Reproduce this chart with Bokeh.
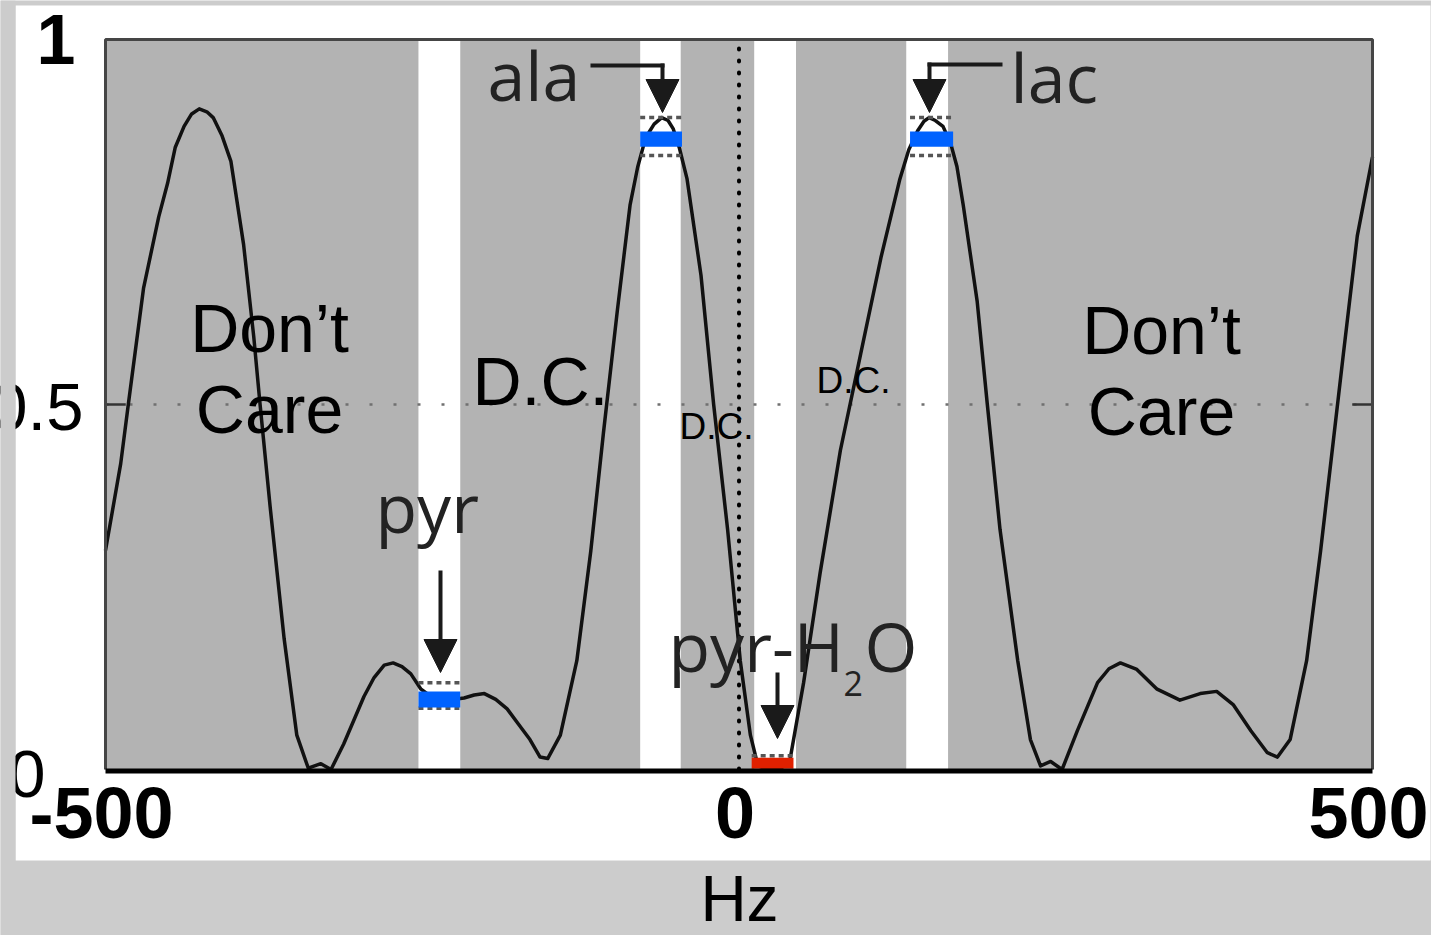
from bokeh.plotting import figure
from bokeh.models import Arrow, NormalHead, Range1d
from bokeh.core.properties import value
from bokeh.embed import file_html
from bokeh.resources import INLINE

# ---- data ----
hz = [-500, -488, -482, -470, -458, -451, -445, -438, -432, -426, -420, -415, -408,
      -401, -391, -383, -378, -370, -359, -349, -340, -330, -322, -312, -296, -288,
      -280, -273, -266, -259, -251, -244, -236, -226, -217, -209, -201, -192, -183,
      -174, -165, -157, -151, -141, -128, -117, -107, -96, -86, -80, -75, -71, -67,
      -61, -56, -52, -47, -41, -30, -20, -9, 1, 9, 15, 21, 27, 34, 40, 51, 64,
      80, 96, 112, 127, 134, 141, 146, 150, 155, 161, 167, 172, 177, 188, 196, 206,
      220, 230, 238, 246, 255, 267, 283, 292, 301, 314, 330, 348, 364, 377, 390, 404,
      417, 425, 435, 448, 459, 469, 477, 488, 500]
mag = [0.3, 0.419, 0.5, 0.659, 0.757, 0.803, 0.852, 0.881, 0.898, 0.905, 0.901, 0.893, 0.868,
       0.833, 0.719, 0.593, 0.5, 0.359, 0.179, 0.047, 0.002, 0.008, 0.0, 0.035, 0.1, 0.126,
       0.143, 0.146, 0.141, 0.131, 0.11, 0.101, 0.098, 0.096, 0.098, 0.102, 0.104, 0.096, 0.083,
       0.062, 0.041, 0.017, 0.015, 0.047, 0.149, 0.299, 0.461, 0.629, 0.773, 0.825, 0.857, 0.873, 0.884,
       0.893, 0.889, 0.878, 0.851, 0.809, 0.677, 0.5, 0.329, 0.149, 0.047, 0.005, 0.001, 0.0, 0.003, 0.011, 0.119, 0.269,
       0.437, 0.569, 0.701, 0.809, 0.849, 0.875, 0.888, 0.893, 0.889, 0.881, 0.858, 0.826, 0.773, 0.641, 0.5, 0.329,
       0.149, 0.041, 0.005, 0.011, 0.0, 0.053, 0.119, 0.138, 0.146, 0.137, 0.11, 0.095, 0.104, 0.107, 0.089, 0.053,
       0.023, 0.017, 0.041, 0.149, 0.299, 0.449, 0.569, 0.731, 0.839]

# white (care) gaps between the grey "don't care" regions
gap_left = [-253, -78, 12, 132]
gap_right = [-220, -46, 45, 165]

# pass bands (blue) with tolerance limits
pass_names = ["pyr", "ala", "lac"]
pass_left = [-253, -78, 135]
pass_right = [-220, -45, 169]
pass_low = [0.085, 0.853, 0.853]
pass_high = [0.107, 0.874, 0.874]
tol_upper = [0.119, 0.893, 0.893]
tol_lower = [0.084, 0.841, 0.841]

# stop band (red) for pyr-H2O
stop_left = [10]
stop_right = [43]
stop_low = [0.001]
stop_high = [0.016]
stop_tol = [0.019]

x_ticks = [-500, 0, 500]
x_tick_labels = ["-500", "0", "500"]
y_ticks = [0, 0.5, 1]
y_tick_labels = ["0", "0.5", "1"]

# ---- pixel layout of the page (1431 x 935) ----
W, H = 1431, 935
PX_L, PX_R = 105, 1372      # x = -500 .. 500
PY_0, PY_1 = 769, 39        # y = 0 .. 1
KX = (PX_R - PX_L) / (x_ticks[2] - x_ticks[0])
KY = (PY_0 - PY_1) / (y_ticks[2] - y_ticks[0])

def hx(px):
    return x_ticks[0] + (px - PX_L) / KX

def vy(py):
    return y_ticks[0] + (PY_0 - py) / KY

p = figure(width=W, height=H, x_range=Range1d(hx(0), hx(W)), y_range=Range1d(vy(H), vy(0)),
           output_backend="svg", toolbar_location=None, x_axis_location=None, y_axis_location=None,
           min_border=0, border_fill_color="#cccccc", background_fill_color="#cccccc",
           outline_line_color=None)
p.grid.visible = False

XMIN, XMAX = x_ticks[0], x_ticks[2]
YMIN, YMAX = y_ticks[0], y_ticks[2]

# white panel
p.quad(left=[hx(15)], right=[hx(1430)], bottom=[vy(860)], top=[vy(5)], fill_color="white", line_color=None)

# grey don't-care regions
gray_l = [XMIN] + gap_right
gray_r = gap_left + [XMAX]
p.quad(left=gray_l, right=gray_r, bottom=YMIN, top=YMAX, fill_color="#b3b3b3", line_color=None)

# dotted grid at 0.5, ticks at 0.5, dotted line at 0 Hz
p.line(x=[XMIN, XMAX], y=[y_ticks[1]] * 2, line_color="#707070", line_width=2.5, line_dash="3 21")
p.segment(x0=[XMIN, XMAX], x1=[XMIN + 16, XMAX - 16], y0=[y_ticks[1]] * 2, y1=[y_ticks[1]] * 2,
          line_color="#333333", line_width=2.5)
p.line(x=[x_ticks[1]] * 2, y=[YMIN, YMAX], line_color="black", line_width=4,
       line_dash="1 11", line_cap="round")

# response curve
p.line(hz, mag, line_color="#111111", line_width=3.5, line_join="round")

# tolerance marks
p.segment(x0=pass_left, x1=pass_right, y0=tol_upper, y1=tol_upper, line_color="#555555",
          line_width=3.5, line_dash="5 4")
p.segment(x0=pass_left, x1=pass_right, y0=tol_lower, y1=tol_lower, line_color="#555555",
          line_width=3.5, line_dash="5 4")
p.segment(x0=stop_left, x1=stop_right, y0=stop_tol, y1=stop_tol, line_color="#555555",
          line_width=3.5, line_dash="5 4")

# pass / stop bars
p.quad(left=pass_left, right=pass_right, bottom=pass_low, top=pass_high,
       fill_color="#0062ff", line_color=None)
p.quad(left=stop_left, right=stop_right, bottom=stop_low, top=stop_high,
       fill_color="#e02000", line_color=None)

# plot box: grey left/top/right, thick black bottom
p.line(x=[XMIN, XMIN, XMAX, XMAX], y=[YMIN, YMAX, YMAX, YMIN], line_color="#454545", line_width=3)
p.line(x=[XMIN, XMAX], y=[vy(PY_0 + 1.5)] * 2, line_color="black", line_width=5)

# arrows
ink = "#1a1a1a"
def arrow(x0, y0, x1, y1):
    p.add_layout(Arrow(x_start=x0, y_start=y0, x_end=x1, y_end=y1, line_width=4, line_color=ink,
                       end=NormalHead(size=33, fill_color=ink, line_color=ink, line_width=1)))

p.segment(x0=[hx(590), hx(1002)], x1=[hx(664), hx(927)], y0=[vy(65), vy(64)], y1=[vy(65), vy(64)],
          line_color=ink, line_width=4)
arrow(hx(662), vy(63), hx(662), vy(112))
arrow(hx(929), vy(62), hx(929), vy(112))
arrow(hx(440), vy(570), hx(440), vy(672))
arrow(hx(777), vy(672), hx(777), vy(738))

# the text renderer anchors "alphabetic" text near the middle of the em box,
# so lift each anchor by that amount to put the baseline where it belongs
SHIFT = {"Liberation Sans": 0.35, "Open Sans": 0.41}

def txt(px, py, text, size, font="Liberation Sans", align="left", style="normal", color="black"):
    fs = float(size.replace("px", ""))
    p.text(x=[hx(px)], y=[vy(py - SHIFT[font] * fs)], text=[text], text_font=value(font),
           text_font_size=size, text_align=align, text_baseline="alphabetic",
           text_font_style=style, text_color=color)

# region labels
txt(269, 351, "Don\u2019t", "68px", align="center")
txt(269, 432, "Care", "68px", align="center")
txt(1161, 353, "Don\u2019t", "68px", align="center")
txt(1161, 434, "Care", "68px", align="center")
txt(472, 404, "D.C.", "68px")
txt(679, 439, "D.C.", "37px")
txt(816, 393, "D.C.", "37px")

# metabolite labels
mf = "Open Sans"
mc = "#222222"
txt(487, 102, "ala", "68px", font=mf, color=mc)
txt(1010, 104, "lac", "68px", font=mf, color=mc)
txt(375, 534, "pyr", "68px", font=mf, color=mc)
txt(668, 673, "pyr-H", "68px", font=mf, color=mc)
txt(843, 697, "2", "34px", font=mf, color=mc)
txt(864, 673, "O", "68px", font=mf, color=mc)

# tick labels
txt(75, 63, y_tick_labels[2], "70px", align="right", style="bold")
txt(83, 430, y_tick_labels[1], "67px", align="right")
txt(45, 797, y_tick_labels[0], "67px", align="right")
for t, s in zip(x_ticks, x_tick_labels):
    p.text(x=[t], y=[vy(838 - 0.35 * 72)], text=[s], text_font=value("Liberation Sans"),
           text_font_size="72px", text_align="center", text_baseline="alphabetic",
           text_font_style="bold", text_color="black", x_offset=-4)

# axis title
txt(739, 921, "Hz", "64px", align="center")

# grey page margin on the left hides the overflowing y tick labels
p.quad(left=[hx(0)], right=[hx(15)], bottom=[vy(H)], top=[vy(0)], fill_color="#cccccc", line_color=None)

open("out.html", "w").write(file_html(p, INLINE))
